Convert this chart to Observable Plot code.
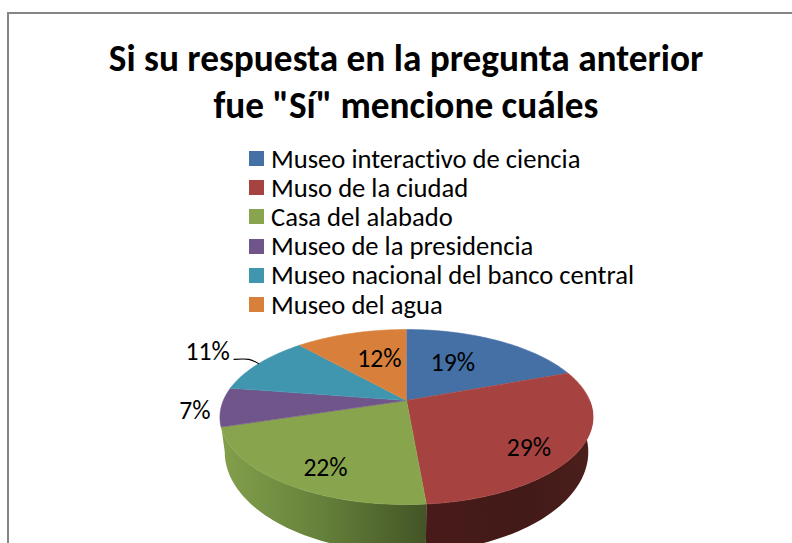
<!DOCTYPE html>
<html><head><meta charset="utf-8">
<style>
html,body{margin:0;padding:0;background:#fff;width:792px;height:543px;overflow:hidden}
#frame{position:relative;width:792px;height:543px;overflow:hidden;font-family:Carlito,Lato,sans-serif;color:#000;font-variant-ligatures:none}
#border{position:absolute;left:7px;top:12px;width:800px;height:600px;border:2px solid #868686;box-sizing:border-box}
#title{position:absolute;left:0;width:812px;top:35px;text-align:center;font-weight:700;font-size:37.3px;line-height:47px}
#legend{position:absolute;left:249px;top:144px}
.row{display:flex;align-items:center;height:29.2px;font-size:26.6px;white-space:nowrap}
.sw{width:15px;height:15px;margin-right:7px;flex:none}
#chart{position:absolute;left:0;top:320px}
svg{display:block}
</style>
<script src="https://cdn.jsdelivr.net/npm/d3@7"></script>
<script src="https://cdn.jsdelivr.net/npm/@observablehq/plot@0.6"></script>
</head><body>
<div id="frame">
  <div id="border"></div>
  <div id="title">Si su respuesta en la pregunta anterior<br>fue "Sí" mencione cuáles</div>
  <div id="legend"></div>
  <div id="chart"></div>
</div>
<script>
const categories = ["Museo interactivo de ciencia","Muso de la ciudad","Casa del alabado","Museo de la presidencia","Museo nacional del banco central","Museo del agua"];
const shares = [19.4, 29.2, 21.6, 7.2, 11.0, 11.6];
const colors = ["#4470a6","#a64340","#88a44d","#70558b","#3f96ae","#d8803b"];
// label placement in pie polar terms: [fraction of a turn, fraction of the radius]
const labelPolar = [[0.082,0.561],[0.361,0.788],[0.581,0.789],[0.734,1.136],[0.828,1.382],[0.954,0.573]];
const leaderPolar = [[0.826,1.167],[0.832,1.089],[0.829,1.0]];

// perspective of the tilted disc, top and bottom planes
const k = -0.189;
const topPlane = {A:183.2, B:84.4, y0:0};
const botPlane = {A:178.5, B:96.9, y0:32.5};
const proj = (turn, r, p) => {
  const a = 2*Math.PI*turn, u = r*Math.sin(a), v = -r*Math.cos(a), d = 1 + k*v;
  return {x: p.A*u/d, y: p.y0 + p.B*v/d};
};
const arcPts = (t0, t1, p) => d3.range(0, 61).map(i => proj(t0 + (t1-t0)*i/60, 1, p));

// top surface slices
let acc = 0;
const total = d3.sum(shares);
const slices = categories.map((name,i) => {
  const t0 = acc/total; acc += shares[i]; const t1 = acc/total;
  return {name, t0, t1, share: shares[i]};
});
const topPts = slices.flatMap(s => [{...proj(0,0,topPlane)}, ...arcPts(s.t0,s.t1,topPlane)].map(p => ({...p, name:s.name})));

const wall = (t0,t1) => [...arcPts(t0,t1,topPlane), ...arcPts(t0,t1,botPlane).reverse()];
const redWall = wall(0.25, slices[1].t1);
const greenWall = wall(slices[1].t1, 0.72);

const labels = slices.map((s,i) => ({...proj(labelPolar[i][0],labelPolar[i][1],topPlane), text:d3.format(".0f")(s.share)+"%"}));
const leader = leaderPolar.map(([t,r]) => proj(t,r,topPlane));

const gradients = () => {
  const defs = d3.create("svg:defs");
  const g = (id, stops) => {
    const lg = defs.append("linearGradient").attr("id",id);
    stops.forEach(([o,c]) => lg.append("stop").attr("offset",o).attr("stop-color",c));
  };
  g("gGreen",[[0,"#83a04c"],[0.5,"#65803a"],[1,"#435426"]]);
  g("gRed",[[0,"#481b19"],[0.6,"#421a18"],[1,"#4c1f1c"]]);
  return defs.node();
};

const plot = Plot.plot({
  width:792, height:223, margin:0,
  x:{domain:[-406,386], range:[0,792], axis:null},
  y:{domain:[-80,143], range:[0,223], axis:null},
  color:{domain:categories, range:colors},
  style:{background:"transparent", overflow:"hidden"},
  marks:[
    gradients,
    Plot.line(redWall,{x:"x",y:"y",fill:"url(#gRed)",stroke:"none"}),
    Plot.line(greenWall,{x:"x",y:"y",fill:"url(#gGreen)",stroke:"none"}),
    Plot.line(topPts,{x:"x",y:"y",z:"name",fill:"name",stroke:"name",strokeWidth:0.6,curve:"linear"}),
    Plot.line(leader,{x:"x",y:"y",stroke:"#000",strokeWidth:1.1,curve:"catmull-rom"}),
    Plot.text(labels,{x:"x",y:"y",text:"text",fontSize:25.6,fontFamily:"Carlito,Lato,sans-serif",fill:"#000"})
  ]
});
document.getElementById("chart").append(plot);

const legend = d3.select("#legend");
categories.forEach((c,i) => {
  const r = legend.append("div").attr("class","row");
  r.append("div").attr("class","sw").style("background",colors[i]);
  r.append("span").text(c);
});
</script>
</body></html>
